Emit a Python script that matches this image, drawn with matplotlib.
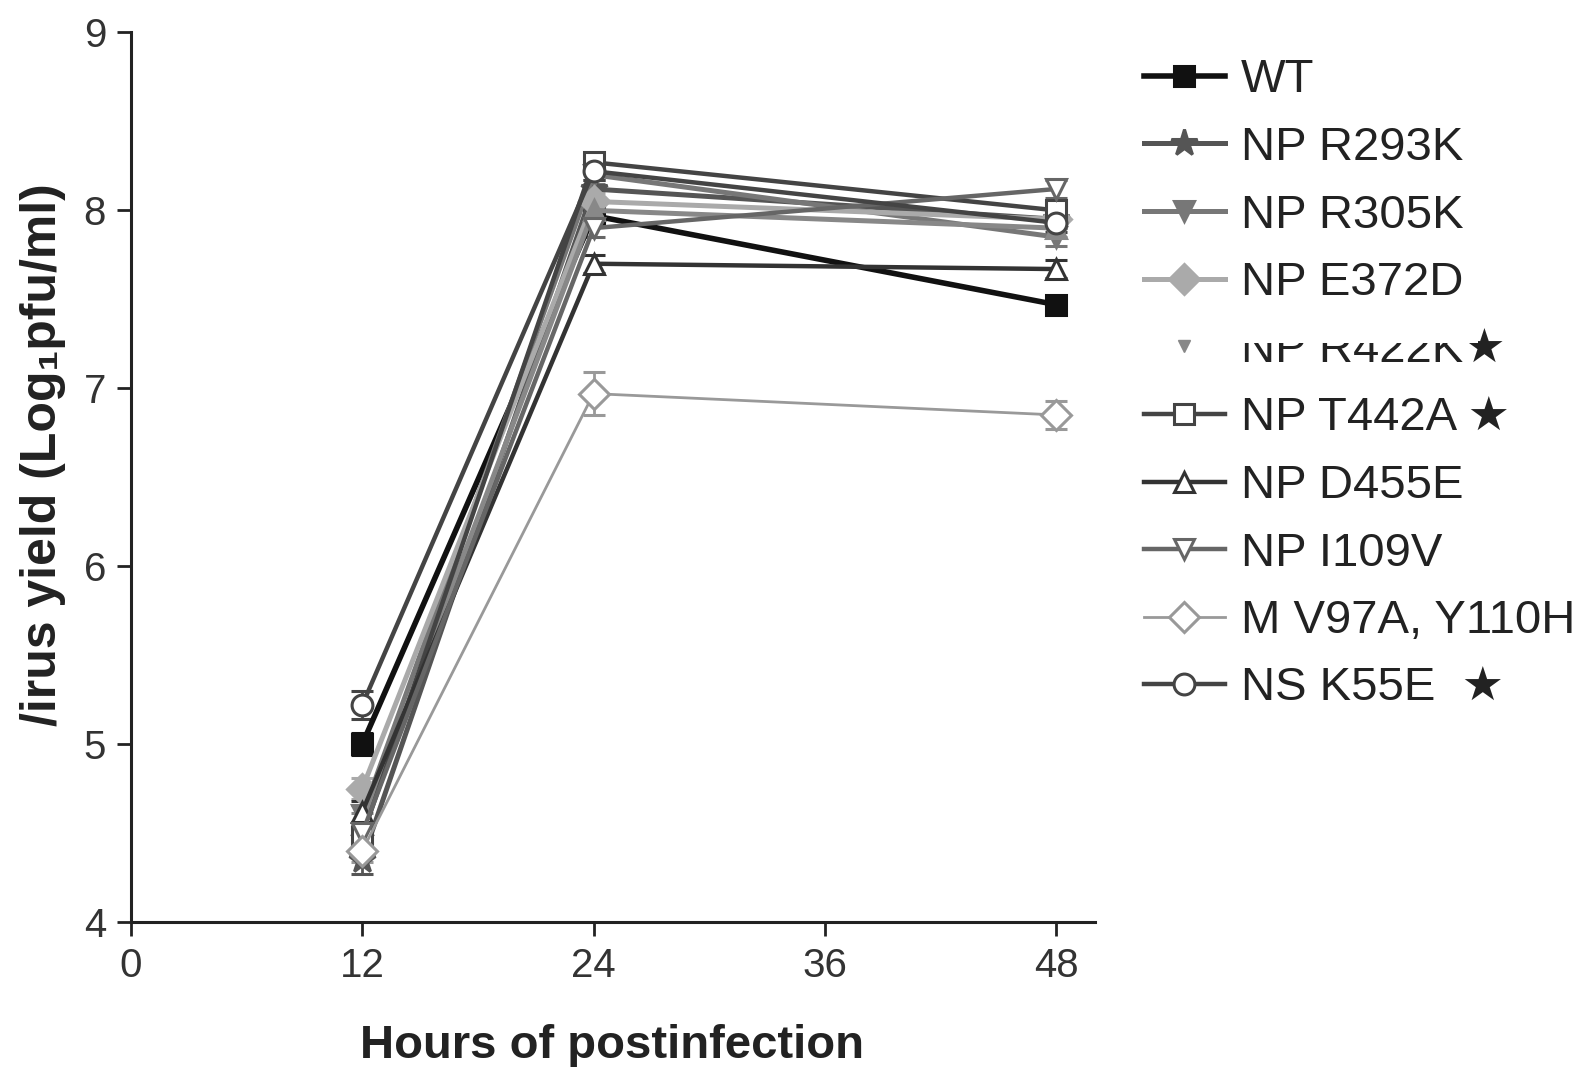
#!/usr/bin/env python3
"""
Virus growth kinetics: yield of WT and point mutants over time.
"""

import matplotlib
matplotlib.use("Agg")
import matplotlib.pyplot as plt
from matplotlib.lines import Line2D
from matplotlib.patches import Rectangle

hours = [12, 24, 48]

labels = ["WT", "NP R293K", "NP R305K", "NP E372D", "NP R422K\u2605",
          "NP T442A \u2605", "NP D455E", "NP I109V", "M V97A, Y110H",
          "NS K55E  \u2605"]

yields = {
    "WT":            [5.00, 7.97, 7.47],
    "NP R293K":      [4.35, 8.12, 7.95],
    "NP R305K":      [4.60, 8.20, 7.85],
    "NP E372D":      [4.75, 8.05, 7.95],
    "NP R422K":      [4.55, 8.00, 7.90],
    "NP T442A":      [4.48, 8.27, 8.00],
    "NP D455E":      [4.62, 7.70, 7.67],
    "NP I109V":      [4.50, 7.90, 8.12],
    "M V97A, Y110H": [4.40, 6.97, 6.85],
    "NS K55E":       [5.22, 8.22, 7.93],
}

errors = {
    "WT":            [0.06, 0.05, 0.05],
    "NP R293K":      [0.08, 0.05, 0.05],
    "NP R305K":      [0.06, 0.05, 0.05],
    "NP E372D":      [0.06, 0.05, 0.05],
    "NP R422K":      [0.06, 0.05, 0.05],
    "NP T442A":      [0.06, 0.05, 0.05],
    "NP D455E":      [0.06, 0.05, 0.05],
    "NP I109V":      [0.06, 0.05, 0.05],
    "M V97A, Y110H": [0.06, 0.12, 0.08],
    "NS K55E":       [0.08, 0.05, 0.05],
}

# color, marker, filled, linewidth
styles = {
    "WT":            ("#111111", "s", True, 4.0),
    "NP R293K":      ("#555555", "*", True, 3.6),
    "NP R305K":      ("#777777", "v", True, 3.6),
    "NP E372D":      ("#aaaaaa", "D", True, 3.6),
    "NP R422K":      ("#888888", "^", True, 3.6),
    "NP T442A":      ("#444444", "s", False, 3.2),
    "NP D455E":      ("#333333", "^", False, 3.2),
    "NP I109V":      ("#666666", "v", False, 3.2),
    "M V97A, Y110H": ("#999999", "D", False, 2.0),
    "NS K55E":       ("#444444", "o", False, 3.2),
}

plt.rcParams["font.family"] = ["Liberation Sans", "DejaVu Sans"]

fig = plt.figure(figsize=(15.94, 10.67), dpi=100)
ax = fig.add_axes([0.0822, 0.1359, 0.6045, 0.8337])

handles = []
for name in yields:
    color, marker, filled, lw = styles[name]
    ms = 20 if marker == "*" else 15
    kw = dict(color=color, lw=lw, marker=marker, ms=ms, mew=2.2,
              mfc=color if filled else "white", mec=color)
    ax.errorbar(hours, yields[name], yerr=errors[name], capsize=8,
                elinewidth=2, capthick=2, **kw)
    if name == "NP R422K":
        handles.append(Line2D([], [], ls="none", marker="v", ms=8,
                              color=color))
    else:
        handles.append(Line2D([], [], **kw))

ax.set_xlim(0, 50)
ax.set_ylim(4, 9)
ax.set_xticks([0, 12, 24, 36, 48])
ax.set_yticks([4, 5, 6, 7, 8, 9])
for s in ["top", "right"]:
    ax.spines[s].set_visible(False)
for s in ["left", "bottom"]:
    ax.spines[s].set_linewidth(2.2)
    ax.spines[s].set_color("#222222")
ax.tick_params(length=10, width=2, color="#222222", labelsize=29,
               labelcolor="#333333", pad=8)

fig.text(0.384, 0.020, "Hours of postinfection", fontsize=34,
         fontweight="bold", ha="center", va="center", color="#222222")
fig.text(0.027, 0.574, "/irus yield (Log\u2081pfu/ml)", fontsize=36,
         fontweight="bold", rotation=90, ha="center", va="center",
         color="#222222")

leg = fig.legend(handles=handles, labels=labels, loc="upper left",
                 bbox_to_anchor=(0.706, 0.963), frameon=False, fontsize=34,
                 handlelength=1.7, handletextpad=0.35, labelspacing=0.5,
                 borderaxespad=0)
for t in leg.get_texts():
    t.set_color("#222222")

# top part of the NP R422K entry is missing in the source scan
fig.patches.append(Rectangle((0.775, 0.679), 0.152, 0.035,
                             transform=fig.transFigure, facecolor="white",
                             edgecolor="none", zorder=10))

plt.savefig("out.png", dpi=100)
plt.close()
